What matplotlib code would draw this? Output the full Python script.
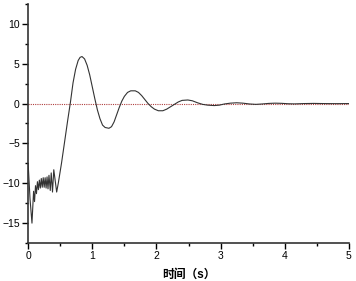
import matplotlib
matplotlib.use("Agg")
import matplotlib.pyplot as plt
from matplotlib.ticker import MultipleLocator

plt.rcParams['font.family'] = ['Liberation Sans', 'Noto Sans CJK SC', 'DejaVu Sans']

# response (time in s, value)
t = [0.0, 0.03, 0.06, 0.085, 0.10, 0.115, 0.13, 0.145, 0.16, 0.175, 0.19,
     0.205, 0.22, 0.235, 0.25, 0.265, 0.28, 0.295, 0.31, 0.325, 0.345, 0.36,
     0.38, 0.40, 0.445, 0.47, 0.52, 0.565, 0.615, 0.66, 0.70, 0.74, 0.78,
     0.81, 0.84, 0.88, 0.92, 0.96, 1.00, 1.04, 1.08, 1.12, 1.16, 1.20, 1.26,
     1.30, 1.34, 1.38, 1.42, 1.46, 1.50, 1.55, 1.60, 1.67, 1.72, 1.77, 1.82,
     1.87, 1.92, 1.97, 2.03, 2.10, 2.16, 2.22, 2.28, 2.34, 2.40, 2.49, 2.56,
     2.64, 2.72, 2.80, 2.90, 2.98, 3.06, 3.15, 3.25, 3.35, 3.45, 3.55, 3.65,
     3.75, 3.85, 3.95, 4.05, 4.15, 4.30, 4.45, 4.60, 4.80, 5.0]
y = [-7.5, -12.0, -15.0, -11.0, -12.3, -10.3, -11.3, -9.8, -10.8, -9.6, -10.6,
     -9.4, -10.5, -9.3, -10.5, -9.3, -10.6, -9.2, -10.7, -9.0, -10.9, -8.7,
     -11.1, -8.3, -11.1, -10.0, -7.5, -5.0, -2.2, 0.2, 2.6, 4.3, 5.4,
     5.8, 5.9, 5.6, 4.8, 3.6, 2.1, 0.6, -0.8, -1.9, -2.7, -3.0, -3.1,
     -2.9, -2.3, -1.4, -0.5, 0.3, 0.9, 1.4, 1.6, 1.6, 1.4, 1.0, 0.5,
     0.0, -0.4, -0.7, -0.9, -0.9, -0.7, -0.4, -0.1, 0.2, 0.4, 0.45, 0.35,
     0.1, -0.1, -0.2, -0.25, -0.2, -0.05, 0.05, 0.1, 0.05, -0.05, -0.1, -0.05,
     0.02, 0.05, 0.03, -0.02, -0.04, 0.0, 0.02, 0.0, -0.01, 0.0]

fig = plt.figure(figsize=(3.56, 2.81), dpi=100)
ax = fig.add_axes([0.079, 0.135, 0.901, 0.851])

ax.axhline(0, color='#b04040', linestyle=(0, (1, 1)), linewidth=0.8)
ax.plot(t, y, color='#333333', linewidth=0.8)

ax.set_xlim(0, 5)
ax.set_ylim(-17.5, 12.5)
ax.xaxis.set_major_locator(MultipleLocator(1))
ax.xaxis.set_minor_locator(MultipleLocator(0.5))
ax.yaxis.set_major_locator(MultipleLocator(5))
ax.yaxis.set_minor_locator(MultipleLocator(2.5))

ax.spines['top'].set_visible(False)
ax.spines['right'].set_visible(False)
ax.spines['left'].set_linewidth(1.2)
ax.spines['bottom'].set_linewidth(1.2)
ax.spines['left'].set_color('#333333')
ax.spines['bottom'].set_color('#333333')
ax.tick_params(which='major', direction='out', length=4, width=1, labelsize=7.5, pad=2)
ax.tick_params(which='minor', direction='out', length=2, width=1)

ax.set_xlabel('时间（s）', fontsize=8.5, fontweight='bold', labelpad=5)

fig.savefig('out.png', dpi=100)
